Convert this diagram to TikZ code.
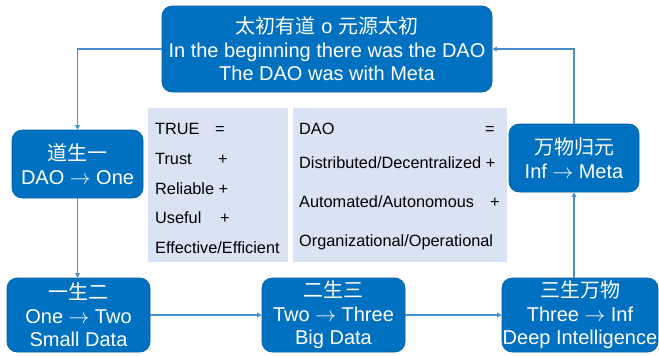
\documentclass[tikz,border=0pt]{standalone}
\usepackage{fontspec}
\setmainfont{Liberation Sans}
\newfontfamily\cjk{Noto Sans CJK SC}
\usetikzlibrary{arrows.meta}
\definecolor{boxblue}{HTML}{0070C0}
\definecolor{linkblue}{HTML}{4A8FCC}
\definecolor{panelblue}{HTML}{DAE3F3}
\begin{document}
\begin{tikzpicture}[x=1pt,y=-1pt,
  stage/.style={rectangle, rounded corners=10pt, fill=boxblue, draw=boxblue!85!black,
    line width=0.6pt, text=white, font=\fontsize{20}{23.5}\selectfont, align=center, inner sep=0pt},
  panelbox/.style={rectangle, fill=panelblue, draw=none, inner sep=0pt},
  ptext/.style={anchor=west, inner sep=0pt, font=\fontsize{16.3}{19}\selectfont, text=black},
  link/.style={draw=linkblue, line width=1.1pt, -{Triangle[length=4.5pt,width=4.5pt]}}]
\useasboundingbox (0,0) rectangle (659,356);
% panels
\node[panelbox, minimum width=140pt, minimum height=154pt] (p1) at (218,185) {};
\node[panelbox, minimum width=214pt, minimum height=154pt] (p2) at (400,185) {};
% panel texts
\node[ptext] (t1) at (155,129) {\makebox[60pt][l]{TRUE}=};
\node[ptext] (t2) at (155,159) {\makebox[63pt][l]{Trust}+};
\node[ptext] (t3) at (155,189) {Reliable +};
\node[ptext] (t4) at (155,218) {\makebox[65pt][l]{Useful}+};
\node[ptext] (t5) at (155,248) {Effective/Efficient};
\node[ptext] (d1) at (299,129) {\makebox[186pt][l]{DAO}=};
\node[ptext] (d2) at (299,163) {Distributed/Decentralized +};
\node[ptext] (d3) at (299,202) {\makebox[191pt][l]{Automated/Autonomous}+};
\node[ptext] (d4) at (299,242) {Organizational/Operational};
% stages
\node[stage, minimum width=330pt, minimum height=86pt] (top) at (327,49)
  {{\cjk 太初有道} o {\cjk 元源太初}\\In the beginning there was the DAO\\The DAO was with Meta};
\node[stage, minimum width=131pt, minimum height=68pt] (s1) at (77.5,164)
  {{\cjk 道生一}\\DAO $\rightarrow$ One};
\node[stage, minimum width=143pt, minimum height=74pt] (s2) at (78.5,315)
  {{\cjk 一生二}\\One $\rightarrow$ Two\\Small Data};
\node[stage, minimum width=143pt, minimum height=74pt] (s3) at (333.5,315)
  {{\cjk 二生三}\\Two $\rightarrow$ Three\\Big Data};
\node[stage, minimum width=156pt, minimum height=74pt] (s4) at (580,315)
  {{\cjk 三生万物}\\Three $\rightarrow$ Inf\\Deep Intelligence};
\node[stage, minimum width=130pt, minimum height=68pt] (s5) at (574,158)
  {{\cjk 万物归元}\\Inf $\rightarrow$ Meta};
% connectors
\draw[link] (top.west) -| (s1.north);
\draw[link] (s1.south) -- (s1.south |- s2.north);
\draw[link] (s2.east) -- (s3.west);
\draw[link] (s3.east) -- (s4.west);
\draw[link] (s5.south |- s4.north) -- (s5.south);
\draw[link] (s5.north) |- (top.east);
\end{tikzpicture}
\end{document}
